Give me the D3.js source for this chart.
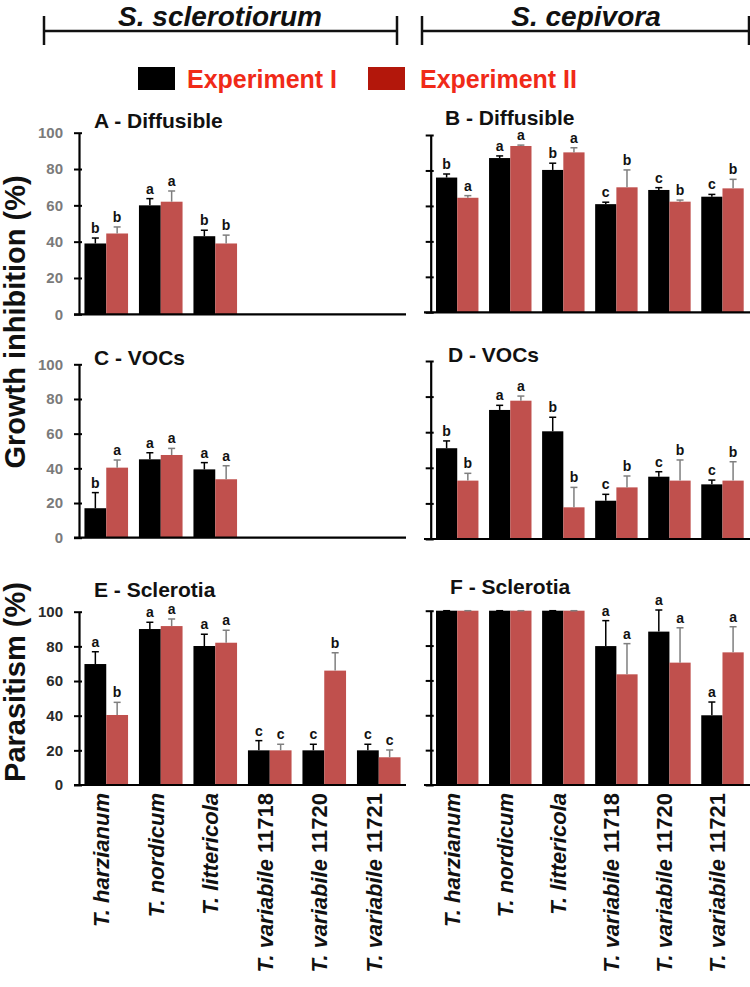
<!DOCTYPE html>
<html><head><meta charset="utf-8">
<script src="https://cdn.jsdelivr.net/npm/d3@7"></script>
<style>
html,body{margin:0;padding:0;background:#fff;}
svg{display:block;font-family:"Liberation Sans",Arial,Helvetica,sans-serif;}
</style></head>
<body>
<svg id="chart" width="750" height="987"></svg>
<script>
// ---------- DATA ----------
const genus = "T.";
const speciesNames = ["harzianum","nordicum","littericola","variabile","variabile","variabile"];
const strainNums = ["","","","11718","11720","11721"];
const pathogens = ["S. sclerotiorum","S. cepivora"];
const seriesNames = ["Experiment I","Experiment II"];
const yTicks = [0,20,40,60,80,100];

const A_exp1 = [39, 60, 43];        const A_exp1_err = [3.0, 3.7, 3.3];   const A_exp1_let = ["b","a","b"];
const A_exp2 = [44.5, 62, 39];      const A_exp2_err = [3.6, 5.9, 4.6];   const A_exp2_let = ["b","a","b"];
const B_exp1 = [76, 87, 80.3, 61, 69, 65.2];     const B_exp1_err = [2, 1.2, 3.8, 1.1, 1.3, 1.3];  const B_exp1_let = ["b","a","b","c","c","c"];
const B_exp2 = [64.6, 93.8, 90.2, 70.5, 62.4, 69.9]; const B_exp2_err = [1.2, 0.5, 2.6, 9.8, 0.9, 5.1]; const B_exp2_let = ["a","a","a","b","b","b"];
const C_exp1 = [17, 45.2, 39.4];    const C_exp1_err = [9, 3.8, 3.9];     const C_exp1_let = ["b","a","a"];
const C_exp2 = [40.4, 47.7, 33.7];  const C_exp2_err = [4.4, 3.8, 7.8];   const C_exp2_let = ["a","a","a"];
const D_exp1 = [51, 72.5, 60.5, 21.5, 35, 30.7]; const D_exp1_err = [4.1, 2.6, 7.9, 3.6, 2.8, 2.4]; const D_exp1_let = ["b","a","b","c","c","c"];
const D_exp2 = [32.8, 77.7, 17.8, 29, 32.8, 32.8]; const D_exp2_err = [4.1, 2.6, 11.2, 6.4, 11.6, 10.6]; const D_exp2_let = ["b","a","b","b","b","b"];
const E_exp1 = [69.8, 90, 80.2, 20, 20, 20];     const E_exp1_err = [7.1, 3.9, 6.8, 5.6, 3.5, 3.5]; const E_exp1_let = ["a","a","a","c","c","c"];
const E_exp2 = [40.4, 91.7, 82.1, 20, 66, 16];   const E_exp2_err = [7.3, 4.1, 7.2, 3.5, 10.3, 4.2]; const E_exp2_let = ["b","a","a","c","b","c"];
const F_exp1 = [100, 100, 100, 79.7, 88, 40];    const F_exp1_err = [0, 0, 0, 14.6, 12.4, 7.6]; const F_exp1_let = ["","","","a","a","a"];
const F_exp2 = [100, 100, 100, 63.5, 70.2, 76.1]; const F_exp2_err = [0, 0, 0, 17.6, 20, 14.7]; const F_exp2_let = ["","","","a","a","a"];

// ---------- LAYOUT ----------
const colors = ["#000000", "#c0504d"];
const errColors = ["#000000", "#7f7f7f"];
const legendColors = ["#000000", "#b3170b"];
const legendText = "#f02a18";

const panels = [
  {title:"A - Diffusible", side:0, y0:314.3, y1:132.7, tx:94, ty:128, e1:A_exp1, e1e:A_exp1_err, e1l:A_exp1_let, e2:A_exp2, e2e:A_exp2_err, e2l:A_exp2_let, tickColor:"#7a7a7a"},
  {title:"B - Diffusible", side:1, y0:312.3, y1:135,   tx:445, ty:125, e1:B_exp1, e1e:B_exp1_err, e1l:B_exp1_let, e2:B_exp2, e2e:B_exp2_err, e2l:B_exp2_let},
  {title:"C - VOCs",       side:0, y0:537.7, y1:364.3, tx:94, ty:365, e1:C_exp1, e1e:C_exp1_err, e1l:C_exp1_let, e2:C_exp2, e2e:C_exp2_err, e2l:C_exp2_let, tickColor:"#7a7a7a"},
  {title:"D - VOCs",       side:1, y0:539,   y1:361,   tx:448, ty:362, e1:D_exp1, e1e:D_exp1_err, e1l:D_exp1_let, e2:D_exp2, e2e:D_exp2_err, e2l:D_exp2_let},
  {title:"E - Sclerotia",  side:0, y0:785,   y1:611.7, tx:94, ty:597, e1:E_exp1, e1e:E_exp1_err, e1l:E_exp1_let, e2:E_exp2, e2e:E_exp2_err, e2l:E_exp2_let, tickColor:"#2a2a2a"},
  {title:"F - Sclerotia",  side:1, y0:785,   y1:610.7, tx:450, ty:594, e1:F_exp1, e1e:F_exp1_err, e1l:F_exp1_let, e2:F_exp2, e2e:F_exp2_err, e2l:F_exp2_let}
];
const sides = [
  {ax:79,  x0:79,    x1:406, axStart:74,  axEnd:406, center:220, brL:44,  brR:397},
  {ax:430.7, x0:430.7, x1:749, axStart:424, axEnd:750, center:586, brL:422, brR:749}
];

const svg = d3.select("#chart");
const groups = d3.range(speciesNames.length);

// header brackets
sides.forEach((s, i) => {
  const g = svg.append("g");
  g.append("line").attr("x1", s.brL).attr("x2", s.brR).attr("y1", 31).attr("y2", 31)
    .attr("stroke", "#111").attr("stroke-width", 2.5);
  [s.brL, s.brR].forEach(x => g.append("line").attr("x1", x).attr("x2", x).attr("y1", 16).attr("y2", 45)
    .attr("stroke", "#111").attr("stroke-width", 2.5));
  g.append("text").attr("x", s.center).attr("y", 26).attr("text-anchor", "middle")
    .attr("font-size", 28).attr("font-weight", "bold").attr("font-style", "italic")
    .attr("fill", "#111").text(pathogens[i]);
});

// legend
const legX = [138, 368], legTX = [187, 420];
seriesNames.forEach((n, i) => {
  svg.append("rect").attr("x", legX[i]).attr("y", 67).attr("width", 37).attr("height", 23).attr("fill", legendColors[i]);
  svg.append("text").attr("x", legTX[i]).attr("y", 88).attr("font-size", 25).attr("font-weight", "bold")
    .attr("fill", legendText).text(n);
});

// panels
panels.forEach(p => {
  const s = sides[p.side];
  const g = svg.append("g");
  const x = d3.scaleBand().domain(groups).range([s.x0, s.x1]).paddingInner(0.2).paddingOuter(0.1);
  const xs = d3.scaleBand().domain([0,1]).range([0, x.bandwidth()]);
  const y = d3.scaleLinear().domain([0,100]).range([p.y0, p.y1]);

  g.append("text").attr("x", p.tx).attr("y", p.ty).attr("font-size", 21).attr("font-weight", "bold")
    .attr("fill", "#111").text(p.title);

  const series = [
    {v:p.e1, e:p.e1e, l:p.e1l},
    {v:p.e2, e:p.e2e, l:p.e2l}
  ];
  series.forEach((ser, si) => {
    ser.v.forEach((v, gi) => {
      const bx = x(gi) + xs(si), bw = xs.bandwidth(), cx = bx + bw/2;
      g.append("rect").attr("x", bx).attr("y", y(v)).attr("width", bw).attr("height", y(0) - y(v))
        .attr("fill", colors[si]);
      const top = y(Math.min(v + ser.e[gi], 100.5));
      g.append("line").attr("x1", cx).attr("x2", cx).attr("y1", y(v)).attr("y2", top)
        .attr("stroke", errColors[si]).attr("stroke-width", 1.5);
      g.append("line").attr("x1", cx - 3.5).attr("x2", cx + 3.5).attr("y1", top).attr("y2", top)
        .attr("stroke", errColors[si]).attr("stroke-width", 1.5);
      if (ser.l[gi]) {
        g.append("text").attr("x", cx).attr("y", top - 5).attr("text-anchor", "middle")
          .attr("font-size", 14).attr("font-weight", "bold").attr("fill", "#111").text(ser.l[gi]);
      }
    });
  });

  const yAxis = d3.axisLeft(y).tickValues(yTicks).tickSize(5).tickSizeOuter(0);
  const ya = g.append("g").attr("transform", `translate(${s.ax},0)`).call(yAxis);
  ya.select(".domain").attr("stroke", "#000").attr("stroke-width", 2.2);
  ya.selectAll(".tick line").attr("stroke", "#000").attr("stroke-width", 2).attr("x2", -5).attr("x1", 3);
  if (p.side === 0) {
    ya.selectAll(".tick text").attr("x", -16).attr("font-size", 15).attr("font-weight", "bold")
      .attr("fill", p.tickColor).attr("font-family", "Liberation Sans, Arial, sans-serif");
  } else {
    ya.selectAll(".tick text").remove();
  }
  g.append("line").attr("x1", s.axStart).attr("x2", s.axEnd).attr("y1", p.y0).attr("y2", p.y0)
    .attr("stroke", "#000").attr("stroke-width", 2.2);
});

// x category labels
sides.forEach((s, si) => {
  const x = d3.scaleBand().domain(groups).range([s.x0, s.x1]).paddingInner(0.2).paddingOuter(0.1);
  groups.forEach(gi => {
    const cx = x(gi) + x.bandwidth()/2 + 3;
    const t = svg.append("text").attr("transform", `translate(${cx},793) rotate(-90)`)
      .attr("text-anchor", "end").attr("font-size", 22).attr("font-weight", "bold").attr("fill", "#111");
    t.append("tspan").attr("font-style", "italic").text(genus + " " + speciesNames[gi]);
    if (strainNums[gi]) t.append("tspan").text(" " + strainNums[gi]);
  });
});

// y axis titles
svg.append("text").attr("transform", "translate(25,322) rotate(-90)").attr("text-anchor", "middle")
  .attr("font-size", 29).attr("font-weight", "bold").attr("fill", "#111").text("Growth inhibition (%)");
svg.append("text").attr("transform", "translate(25,682) rotate(-90)").attr("text-anchor", "middle")
  .attr("font-size", 29).attr("font-weight", "bold").attr("fill", "#111").text("Parasitism (%)");
</script>
</body></html>
